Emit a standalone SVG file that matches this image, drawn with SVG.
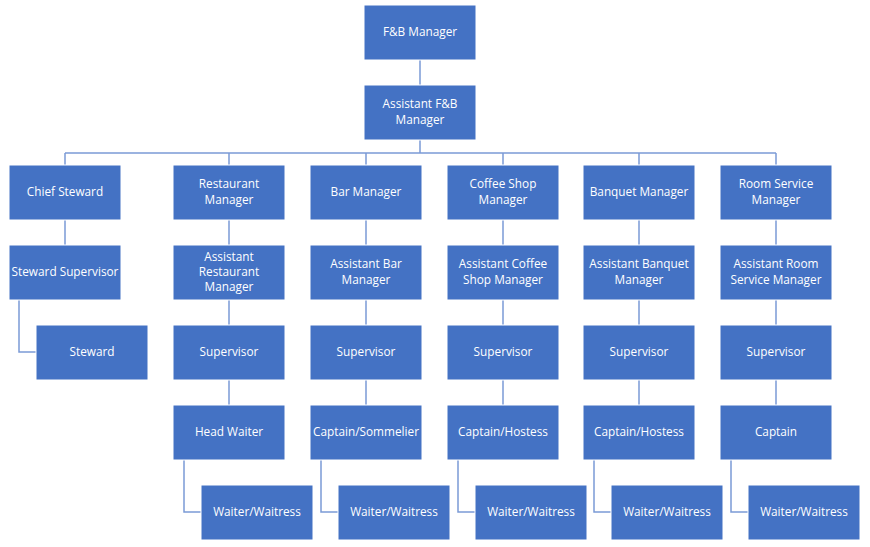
<svg xmlns="http://www.w3.org/2000/svg" width="870" height="547" viewBox="0 0 870 547">
<style>
.b{fill:#4472C4;stroke:#ffffff;stroke-width:1}
.t{fill:#ffffff;font-family:"Open Sans","Noto Sans","DejaVu Sans",sans-serif;font-size:11.8px;text-anchor:middle}
.c{fill:none;stroke:#7b9bd6;stroke-width:1.5}
</style>
<rect width="870" height="547" fill="#ffffff"/>
<g id="connectors">
<path class="c" d="M420 60V85M420 140V153M65 153H776M65 153V165M229 153V165M366 153V165M503 153V165M639 153V165M776 153V165"/>
<path class="c" d="M65 220V245M19 300V352H36"/>
<path class="c" d="M229 220V245M229 300V325M229 380V405M184 460V512H201"/>
<path class="c" d="M366 220V245M366 300V325M366 380V405M321 460V512H338"/>
<path class="c" d="M503 220V245M503 300V325M503 380V405M458 460V512H475"/>
<path class="c" d="M639 220V245M639 300V325M639 380V405M594 460V512H611"/>
<path class="c" d="M776 220V245M776 300V325M776 380V405M731 460V512H748"/>
</g>
<g id="fb-manager"><rect class="b" x="364" y="5" width="112" height="55"/><text class="t" x="420" y="36">F&amp;B Manager</text></g>
<g id="asst-fb-manager"><rect class="b" x="364" y="85" width="112" height="55"/><text class="t" x="420" y="108">Assistant F&amp;B</text><text class="t" x="420" y="124">Manager</text></g>

<g id="chief-steward"><rect class="b" x="9" y="165" width="112" height="55"/><text class="t" x="65" y="196">Chief Steward</text></g>
<g id="steward-supervisor"><rect class="b" x="9" y="245" width="112" height="55"/><text class="t" x="65" y="276">Steward Supervisor</text></g>
<g id="steward"><rect class="b" x="36" y="325" width="112" height="55"/><text class="t" x="92" y="356">Steward</text></g>

<g id="restaurant-manager"><rect class="b" x="173" y="165" width="112" height="55"/><text class="t" x="229" y="188">Restaurant</text><text class="t" x="229" y="204">Manager</text></g>
<g id="asst-restaurant-manager"><rect class="b" x="173" y="245" width="112" height="55"/><text class="t" x="229" y="261">Assistant</text><text class="t" x="229" y="276">Restaurant</text><text class="t" x="229" y="291">Manager</text></g>
<g id="restaurant-supervisor"><rect class="b" x="173" y="325" width="112" height="55"/><text class="t" x="229" y="356">Supervisor</text></g>
<g id="head-waiter"><rect class="b" x="173" y="405" width="112" height="55"/><text class="t" x="229" y="436">Head Waiter</text></g>
<g id="restaurant-waiter"><rect class="b" x="201" y="485" width="112" height="55"/><text class="t" x="257" y="516">Waiter/Waitress</text></g>

<g id="bar-manager"><rect class="b" x="310" y="165" width="112" height="55"/><text class="t" x="366" y="196">Bar Manager</text></g>
<g id="asst-bar-manager"><rect class="b" x="310" y="245" width="112" height="55"/><text class="t" x="366" y="268">Assistant Bar</text><text class="t" x="366" y="284">Manager</text></g>
<g id="bar-supervisor"><rect class="b" x="310" y="325" width="112" height="55"/><text class="t" x="366" y="356">Supervisor</text></g>
<g id="captain-sommelier"><rect class="b" x="310" y="405" width="112" height="55"/><text class="t" x="366" y="436">Captain/Sommelier</text></g>
<g id="bar-waiter"><rect class="b" x="338" y="485" width="112" height="55"/><text class="t" x="394" y="516">Waiter/Waitress</text></g>

<g id="coffee-shop-manager"><rect class="b" x="447" y="165" width="112" height="55"/><text class="t" x="503" y="188">Coffee Shop</text><text class="t" x="503" y="204">Manager</text></g>
<g id="asst-coffee-shop-manager"><rect class="b" x="447" y="245" width="112" height="55"/><text class="t" x="503" y="268">Assistant Coffee</text><text class="t" x="503" y="284">Shop Manager</text></g>
<g id="coffee-supervisor"><rect class="b" x="447" y="325" width="112" height="55"/><text class="t" x="503" y="356">Supervisor</text></g>
<g id="coffee-captain-hostess"><rect class="b" x="447" y="405" width="112" height="55"/><text class="t" x="503" y="436">Captain/Hostess</text></g>
<g id="coffee-waiter"><rect class="b" x="475" y="485" width="112" height="55"/><text class="t" x="531" y="516">Waiter/Waitress</text></g>

<g id="banquet-manager"><rect class="b" x="583" y="165" width="112" height="55"/><text class="t" x="639" y="196">Banquet Manager</text></g>
<g id="asst-banquet-manager"><rect class="b" x="583" y="245" width="112" height="55"/><text class="t" x="639" y="268">Assistant Banquet</text><text class="t" x="639" y="284">Manager</text></g>
<g id="banquet-supervisor"><rect class="b" x="583" y="325" width="112" height="55"/><text class="t" x="639" y="356">Supervisor</text></g>
<g id="banquet-captain-hostess"><rect class="b" x="583" y="405" width="112" height="55"/><text class="t" x="639" y="436">Captain/Hostess</text></g>
<g id="banquet-waiter"><rect class="b" x="611" y="485" width="112" height="55"/><text class="t" x="667" y="516">Waiter/Waitress</text></g>

<g id="room-service-manager"><rect class="b" x="720" y="165" width="112" height="55"/><text class="t" x="776" y="188">Room Service</text><text class="t" x="776" y="204">Manager</text></g>
<g id="asst-room-service-manager"><rect class="b" x="720" y="245" width="112" height="55"/><text class="t" x="776" y="268">Assistant Room</text><text class="t" x="776" y="284">Service Manager</text></g>
<g id="room-service-supervisor"><rect class="b" x="720" y="325" width="112" height="55"/><text class="t" x="776" y="356">Supervisor</text></g>
<g id="room-service-captain"><rect class="b" x="720" y="405" width="112" height="55"/><text class="t" x="776" y="436">Captain</text></g>
<g id="room-service-waiter"><rect class="b" x="748" y="485" width="112" height="55"/><text class="t" x="804" y="516">Waiter/Waitress</text></g>
</svg>
